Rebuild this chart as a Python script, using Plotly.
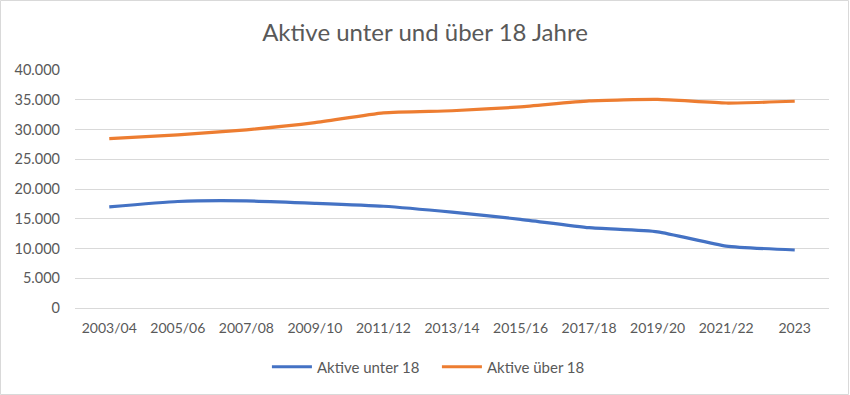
import plotly.graph_objects as go

categories = ["2003/04", "2005/06", "2007/08", "2009/10", "2011/12", "2013/14",
              "2015/16", "2017/18", "2019/20", "2021/22", "2023"]
aktive_unter_18 = [17000, 17900, 18000, 17600, 17100, 16100, 14900, 13500, 12800, 10400, 9750]
aktive_ueber_18 = [28450, 29100, 29950, 31150, 32800, 33150, 33800, 34800, 35050, 34450, 34750]
y_ticks = [0, 5000, 10000, 15000, 20000, 25000, 30000, 35000, 40000]

W, H = 850, 395
ML, MR, MT, MB = 75, 21, 70, 87
PW, PH = W - ML - MR, H - MT - MB
FONT = "Lato, 'Open Sans', sans-serif"
GREY = "#595959"

fig = go.Figure()
fig.add_trace(go.Scatter(x=categories, y=aktive_unter_18, name="Aktive unter 18",
                         mode="lines", line=dict(color="#4472C4", width=3.2, shape="spline", smoothing=0.5)))
fig.add_trace(go.Scatter(x=categories, y=aktive_ueber_18, name="Aktive über 18",
                         mode="lines", line=dict(color="#ED7D31", width=3.2, shape="spline", smoothing=0.5)))

fig.update_layout(
    width=W, height=H,
    margin=dict(l=ML, r=MR, t=MT, b=MB, autoexpand=False),
    paper_bgcolor="white", plot_bgcolor="white",
    separators=",.",
    font=dict(family=FONT, size=14, color=GREY),
    title=dict(text="Aktive unter und über 18 Jahre", x=0.5, xanchor="center",
               y=1 - 33 / H, yanchor="middle",
               font=dict(family=FONT, size=24, color=GREY)),
    showlegend=True,
    legend=dict(orientation="h", x=0.48, xanchor="center", y=(MT + PH - 367) / PH,
                yanchor="middle", font=dict(family=FONT, size=15, color=GREY),
                itemwidth=40, entrywidth=115, entrywidthmode="pixels", traceorder="normal"),
    xaxis=dict(type="category", range=[-0.5, len(categories) - 0.5], showgrid=False,
               showline=False, zeroline=False, ticks="", ticklabelstandoff=10,
               tickfont=dict(family=FONT, size=14, color=GREY)),
    yaxis=dict(range=[0, 40000], tickvals=y_ticks, tickformat=",d", showgrid=True,
               gridcolor="#D9D9D9", gridwidth=1, zeroline=True, zerolinecolor="#D9D9D9",
               zerolinewidth=1, showline=False, ticks="", ticklabelstandoff=14,
               tickfont=dict(family=FONT, size=14.5, color=GREY)),
    shapes=[dict(type="rect", xref="paper", yref="paper",
                 x0=(0.5 - ML) / PW, x1=(W - 1.5 - ML) / PW,
                 y0=(MT + PH - (H - 0.5)) / PH, y1=(MT + PH - 0.5) / PH,
                 line=dict(color="#D9D9D9", width=1), fillcolor="rgba(0,0,0,0)", layer="below")],
)

fig.write_html("out.html", config={"displayModeBar": False})
with open("out.html", "r", encoding="utf-8") as f:
    html = f.read()
html = html.replace("<head>", "<head><style>html,body{margin:0;padding:0;overflow:hidden;}</style>", 1)
with open("out.html", "w", encoding="utf-8") as f:
    f.write(html)
